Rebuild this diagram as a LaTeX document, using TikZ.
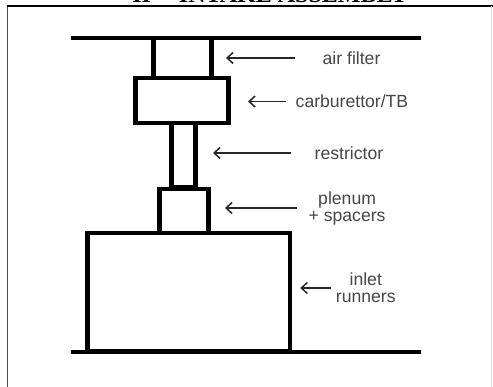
\documentclass[tikz,border=0pt]{standalone}
\usepackage{fontspec}
\setmainfont{Liberation Sans}
\newfontfamily\titlefont{Liberation Serif}
\usepackage{xcolor}
\usetikzlibrary{arrows.meta, positioning}

\begin{document}
\begin{tikzpicture}[
    x=1pt, y=1pt,
    part/.style={draw, rectangle, line width=4.5pt, inner sep=0pt, outer sep=0pt},
    rail/.style={line width=4pt},
    tag/.style={align=center, inner sep=0pt, text=black!72,
      font=\fontsize{17.6}{17}\selectfont},
    arrow/.style={line width=1.5pt, black!85, -{Straight Barb[length=6pt,width=11pt]}}
]
\clip (0,0) rectangle (493,-387);
\fill[white] (0,0) rectangle (493,-387);

% page edge and the cut-off heading
\draw[black!70, line width=1pt] (7,-387) -- (7,-6);
\draw[black, line width=1.5pt] (7,-6) -- (493,-6);
\draw[black!12, line width=1pt] (491,-6) -- (491,-387);
\node[font=\titlefont\bfseries\fontsize{24}{24}\selectfont, anchor=base] (heading) at (270,-3) {II -- INTAKE ASSEMBLY};

% the stack
\node[part, minimum width=58pt, minimum height=40pt] (filter) at (182.5,-58) {};
\node[part, minimum width=93pt, minimum height=45pt, below=0pt of filter, xshift=-0.5pt] (carb) {};
\node[part, minimum width=24pt, minimum height=64pt, below=0pt of carb, xshift=1.5pt] (restrictor) {};
\node[part, minimum width=49pt, minimum height=44pt, below=2pt of restrictor, xshift=0.5pt] (plenum) {};
\node[part, minimum width=202.5pt, minimum height=118pt, below=0pt of plenum, xshift=4.5pt] (runners) {};

% rails
\coordinate (topleft) at (71,-38);
\coordinate (topright) at (421,-38);
\coordinate (baseleft) at (71,-352);
\coordinate (baseright) at (421,-352);
\draw[rail] (topleft) -- (topright);
\draw[rail, line width=3.5pt] (baseleft) -- (baseright);

% labels
\node[tag, right=111pt of filter] (filtertag) {air filter};
\node[tag, right=67pt of carb, yshift=-1pt] (carbtag) {carburettor/TB};
\node[tag, right=119pt of restrictor, yshift=2pt] (restrictortag) {restrictor};
\node[tag, right=100pt of plenum, yshift=3pt] (plenumtag) {plenum\\+ spacers};
\node[tag, right=46pt of runners, yshift=4pt] (runnerstag) {inlet\\runners};

\draw[arrow, shorten <=28pt, shorten >=14.5pt] (filtertag.west) -- (filtertag.west -| filter.east);
\draw[arrow, shorten <=10pt, shorten >=19.5pt] (carbtag.west) -- (carbtag.west -| carb.east);
\draw[arrow, yshift=-2pt, shorten <=24pt, shorten >=17.5pt] (restrictortag.west) -- (restrictortag.west -| restrictor.east);
\draw[arrow, shorten <=12pt, shorten >=16.5pt] (plenumtag.west) -- (plenumtag.west -| plenum.east);
\draw[arrow, yshift=3pt, shorten <=5pt, shorten >=10.5pt] (runnerstag.west) -- (runnerstag.west -| runners.east);
\end{tikzpicture}
\end{document}
